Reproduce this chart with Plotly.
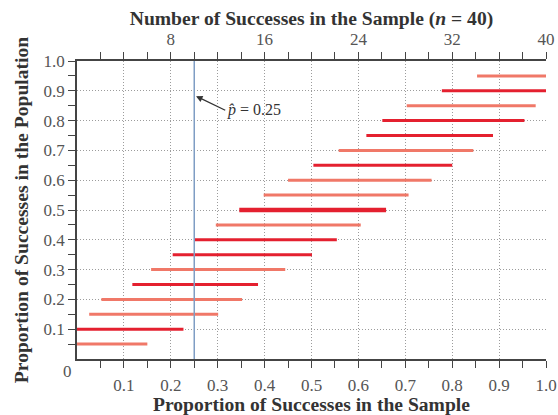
import plotly.graph_objects as go

# Population proportions and the likely range of sample proportions (n = 40)
pop_p = [0.05, 0.10, 0.15, 0.20, 0.25, 0.30, 0.35, 0.40, 0.45, 0.50,
         0.55, 0.60, 0.65, 0.70, 0.75, 0.80, 0.85, 0.90, 0.95]
low = [0.0, 0.0, 0.026, 0.052, 0.118, 0.158, 0.204, 0.250, 0.296, 0.346,
       0.398, 0.450, 0.504, 0.558, 0.617, 0.651, 0.703, 0.778, 0.853]
high = [0.150, 0.227, 0.301, 0.352, 0.386, 0.444, 0.501, 0.554, 0.605, 0.659,
        0.707, 0.756, 0.800, 0.845, 0.887, 0.954, 0.978, 1.0, 1.0]
shade = ["light", "dark", "light", "light", "dark", "light", "dark", "dark", "light", "dark",
         "light", "light", "dark", "light", "dark", "dark", "light", "dark", "light"]
n = 40
p_hat = 0.25

prop_ticks = [0.1, 0.2, 0.3, 0.4, 0.5, 0.6, 0.7, 0.8, 0.9, 1.0]
prop_labels = ["0.1", "0.2", "0.3", "0.4", "0.5", "0.6", "0.7", "0.8", "0.9", "1.0"]
minor_ticks = [round(0.05 * i, 2) for i in range(1, 21)]
count_ticks = [8, 16, 24, 32, 40]
count_minor = list(range(2, 41, 2))

DARK = "#E4202F"
LIGHT = "#F07868"
FONT = "Liberation Serif"

fig = go.Figure()
for p, lo, hi, s in zip(pop_p, low, high, shade):
    fig.add_trace(go.Scatter(
        x=[lo, hi], y=[p, p], mode="lines",
        line=dict(color=DARK if s == "dark" else LIGHT, width=4.5 if p == 0.5 else 3),
        showlegend=False, hoverinfo="skip", cliponaxis=False,
    ))

# top axis carrier (counts = proportion * n)
fig.add_trace(go.Scatter(
    x=[lo * n for lo in low], y=pop_p, xaxis="x2", mode="markers",
    marker=dict(opacity=0), showlegend=False, hoverinfo="skip",
))

fig.add_shape(type="line", xref="x", yref="paper", x0=p_hat, x1=p_hat, y0=0, y1=1,
              line=dict(color="#7F9DC4", width=1.5), layer="above")

fig.add_annotation(
    x=p_hat, y=0.885, xref="x", yref="y",
    text="<i>p̂</i> = 0.25", showarrow=True, arrowhead=2, arrowsize=1, arrowwidth=1.3,
    arrowcolor="#333", ax=31, ay=15, xanchor="left", yanchor="middle", standoff=2,
    font=dict(family=FONT, size=16, color="#333"),
)
fig.add_annotation(
    x=0, y=0, xref="x", yref="y", text="0", showarrow=False,
    xanchor="right", yanchor="top", xshift=-3, yshift=-1,
    font=dict(family=FONT, size=17, color="#555"),
)

grid = dict(showgrid=True, gridcolor="#9c9c9c", griddash="1px,2px", gridwidth=1)
tick_font = dict(family=FONT, size=17, color="#555")
title_font = dict(family=FONT, size=19.6, color="#333")
fig.update_layout(
    width=558, height=415,
    margin=dict(l=77, r=12, t=61, b=56, autoexpand=False),
    plot_bgcolor="white", paper_bgcolor="white",
    font=dict(family=FONT, color="#555"),
    xaxis=dict(
        range=[0, 1], tickmode="array", tickvals=prop_ticks, ticktext=prop_labels,
        ticks="outside", ticklen=7, tickcolor="#444", tickwidth=1.3,
        showline=True, linecolor="#444", linewidth=1.5, zeroline=False,
        tickfont=tick_font, ticklabelstandoff=3, automargin=False,
        minor=dict(tickmode="array", tickvals=minor_ticks, ticks="outside", ticklen=7,
                   tickcolor="#444", tickwidth=1.3, showgrid=False),
        title=dict(text="<b>Proportion of Successes in the Sample</b>", standoff=3,
                   font=title_font),
        **grid,
    ),
    yaxis=dict(
        range=[0, 1], tickmode="array", tickvals=prop_ticks, ticktext=prop_labels,
        ticks="outside", ticklen=7, tickcolor="#444", tickwidth=1.3,
        showline=True, linecolor="#444", linewidth=1.5, zeroline=False,
        tickfont=tick_font, automargin=False,
        minor=dict(tickmode="array", tickvals=minor_ticks, ticks="outside", ticklen=7,
                   tickcolor="#444", tickwidth=1.3, showgrid=False),
        title=dict(text="<b>Proportion of Successes in the Population</b>", standoff=10,
                   font=title_font),
        **grid,
    ),
    xaxis2=dict(
        overlaying="x", side="top", range=[0, n], tickmode="array", tickvals=count_ticks,
        ticks="outside", ticklen=7, tickcolor="#444", tickwidth=1.3,
        showline=True, linecolor="#444", linewidth=1.5, showgrid=False, zeroline=False,
        tickfont=tick_font, automargin=False,
        minor=dict(tickmode="array", tickvals=count_minor, ticks="outside", ticklen=7,
                   tickcolor="#444", tickwidth=1.3, showgrid=False),
        title=dict(text="<b>Number of Successes in the Sample (<i>n</i> = 40)</b>", standoff=0,
                   font=title_font),
    ),
)

fig.write_html("out.html")
